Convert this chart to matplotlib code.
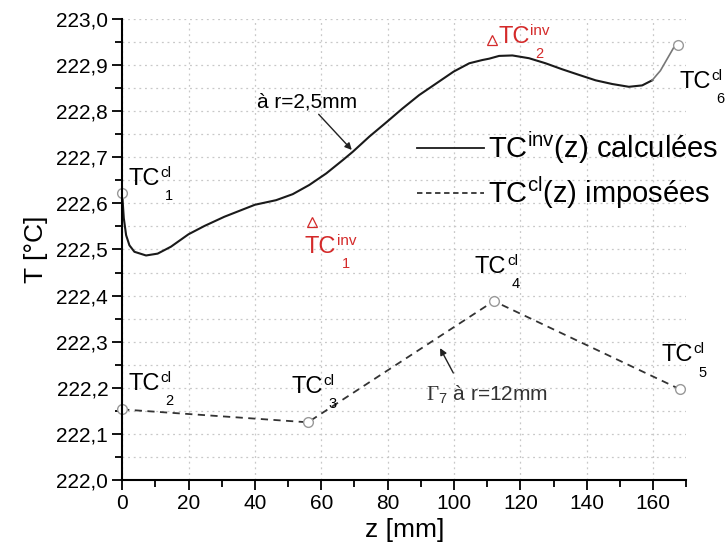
import matplotlib
matplotlib.use('Agg')
import matplotlib.pyplot as plt
from matplotlib.lines import Line2D
from matplotlib.ticker import MultipleLocator, FuncFormatter

plt.rcParams['font.family'] = ['Liberation Sans', 'DejaVu Sans']
plt.rcParams['mathtext.fontset'] = 'custom'
plt.rcParams['mathtext.rm'] = 'Liberation Sans'
plt.rcParams['mathtext.it'] = 'Liberation Sans'
plt.rcParams['mathtext.sf'] = 'Liberation Serif'

# TC^inv(z) computed at r = 2.5 mm
z_inv = [0, 0.5, 1.2, 2.2, 3.7, 7.2, 10.7, 14.7, 20, 24.8, 30.8, 40, 46.4,
         51.4, 56.4, 61.5, 66.5, 69.5, 74.5, 79.8, 84.5, 89.5, 94.6, 99.9,
         104.6, 108.5, 110.6, 113.6, 117.6, 122.6, 127.6, 132.6, 137.6,
         142.7, 147.7, 152.7, 156.7, 159.7, 162.2, 164.2, 166.2, 167.4]
t_inv = [222.622, 222.568, 222.531, 222.509, 222.495, 222.487, 222.491,
         222.506, 222.533, 222.551, 222.571, 222.597, 222.607, 222.620,
         222.640, 222.665, 222.694, 222.712, 222.745, 222.777, 222.806,
         222.835, 222.860, 222.886, 222.904, 222.911, 222.914, 222.920,
         222.921, 222.915, 222.904, 222.891, 222.879, 222.867, 222.859,
         222.853, 222.856, 222.867, 222.888, 222.913, 222.938, 222.944]

# TC^cl(z) imposed at r = 12 mm
z_cl = [0, 56, 112, 168]
t_cl = [222.153, 222.125, 222.388, 222.197]

# end points of the computed curve (TC1 and TC6)
z_cl_end = [0, 167.4]
t_cl_end = [222.622, 222.944]

# measured TC^inv
z_meas = [57.1, 111.6]
t_meas = [222.560, 222.954]

y_ticks = [222.0, 222.1, 222.2, 222.3, 222.4, 222.5, 222.6, 222.7, 222.8,
           222.9, 223.0]
x_ticks = [0, 20, 40, 60, 80, 100, 120, 140, 160]

# labels: (superscript, subscript, z, T, colour)
labels = [
    ('cl', '1', 1.8, 222.64, 'black'),
    ('cl', '2', 1.8, 222.195, 'black'),
    ('cl', '3', 51.1, 222.189, 'black'),
    ('cl', '4', 106.3, 222.449, 'black'),
    ('cl', '5', 162.5, 222.257, 'black'),
    ('cl', '6', 168.0, 222.850, 'black'),
    ('inv', '1', 55.1, 222.492, '#d42a2a'),
    ('inv', '2', 113.3, 222.948, '#d42a2a'),
]

fig = plt.figure(figsize=(7.27, 5.6), dpi=100)
ax = fig.add_axes([0.168, 0.143, 0.776, 0.823])

split = 37
ax.plot(z_inv[:split + 1], t_inv[:split + 1], color='#1a1a1a', lw=1.5)
ax.plot(z_inv[split:], t_inv[split:], color='#777777', lw=1.2)
ax.plot(z_cl, t_cl, color='#333333', lw=1.3, dashes=(4, 3))
ax.plot(z_cl, t_cl, ls='none', marker='o', ms=7, mfc='white',
        mec='#999999', mew=1.0, clip_on=False)
ax.plot(z_cl_end, t_cl_end, ls='none', marker='o', ms=7, mfc='white',
        mec='#999999', mew=1.0, clip_on=False)
ax.plot(z_meas, t_meas, ls='none', marker='^', ms=6.5, mfc='none',
        mec='#d42a2a', mew=0.9)

for sup, sub, x, y, c in labels:
    t = ax.text(x, y, 'TC', fontsize=17, color=c, ha='left',
                va='baseline')
    ax.annotate(sup, xy=(1, 1), xycoords=t, xytext=(0.5, 1.5),
                textcoords='offset points', fontsize=11, color=c,
                ha='left', va='top')
    ax.annotate(sub, xy=(1, 0), xycoords=t, xytext=(7, 0.5),
                textcoords='offset points', fontsize=10.5, color=c,
                ha='center', va='top')

ax.annotate('à r=2,5mm', xy=(69.2, 222.716), xytext=(40.7, 222.82),
            fontsize=15, va='center', ha='left',
            arrowprops=dict(arrowstyle='-|>', color='#222222', lw=1.0,
                            shrinkA=0, shrinkB=0,
                            mutation_scale=10),
            annotation_clip=False)
ax.annotate('', xy=(95.8, 222.286), xytext=(99.8, 222.232),
            arrowprops=dict(arrowstyle='-|>', color='#222222', lw=1.0,
                            shrinkA=0, shrinkB=0, mutation_scale=10))
ax.text(91.5, 222.184, r'$\mathsf{\Gamma}_{\rm 7}$ à r=12mm', fontsize=15,
        color='#333333', va='center', ha='left')

ax.set_xlim(0, 170)
ax.set_ylim(222.0, 223.0)
ax.set_xticks(x_ticks)
ax.set_yticks(y_ticks)
ax.xaxis.set_minor_locator(MultipleLocator(10))
ax.yaxis.set_minor_locator(MultipleLocator(0.05))
ax.yaxis.set_major_formatter(FuncFormatter(
    lambda v, p: ('%.1f' % v).replace('.', ',')))
ax.tick_params(which='major', direction='out', length=7, width=1.3,
               labelsize=15, pad=3)
ax.tick_params(which='minor', direction='out', length=5, width=1.3)
for s in ['top', 'right']:
    ax.spines[s].set_visible(False)
for s in ['left', 'bottom']:
    ax.spines[s].set_linewidth(1.5)

ax.grid(True, which='major', axis='x', color='#c8c8c8', lw=0.9,
        ls=(0, (1.5, 3)))
ax.grid(True, which='both', axis='y', color='#c8c8c8', lw=0.9,
        ls=(0, (1.5, 3)))
ax.set_axisbelow(True)

ax.set_xlabel('z [mm]', fontsize=19, labelpad=4)
ax.set_ylabel('T [°C]', fontsize=19, labelpad=6)

handles = [Line2D([], [], color='#1a1a1a', lw=1.3),
           Line2D([], [], color='#333333', lw=1.3, dashes=(3, 2))]
leg = fig.legend(handles,
                 [r'TC$^{\rm inv}$(z) calculées', r'TC$^{\rm cl}$(z) imposées'],
                 loc='center left', bbox_to_anchor=(0.5736, 0.6955),
                 frameon=False, fontsize=21, handlelength=2.3,
                 handletextpad=0.15, labelspacing=0.3, borderpad=0,
                 borderaxespad=0)

fig.savefig('out.png', dpi=100)
